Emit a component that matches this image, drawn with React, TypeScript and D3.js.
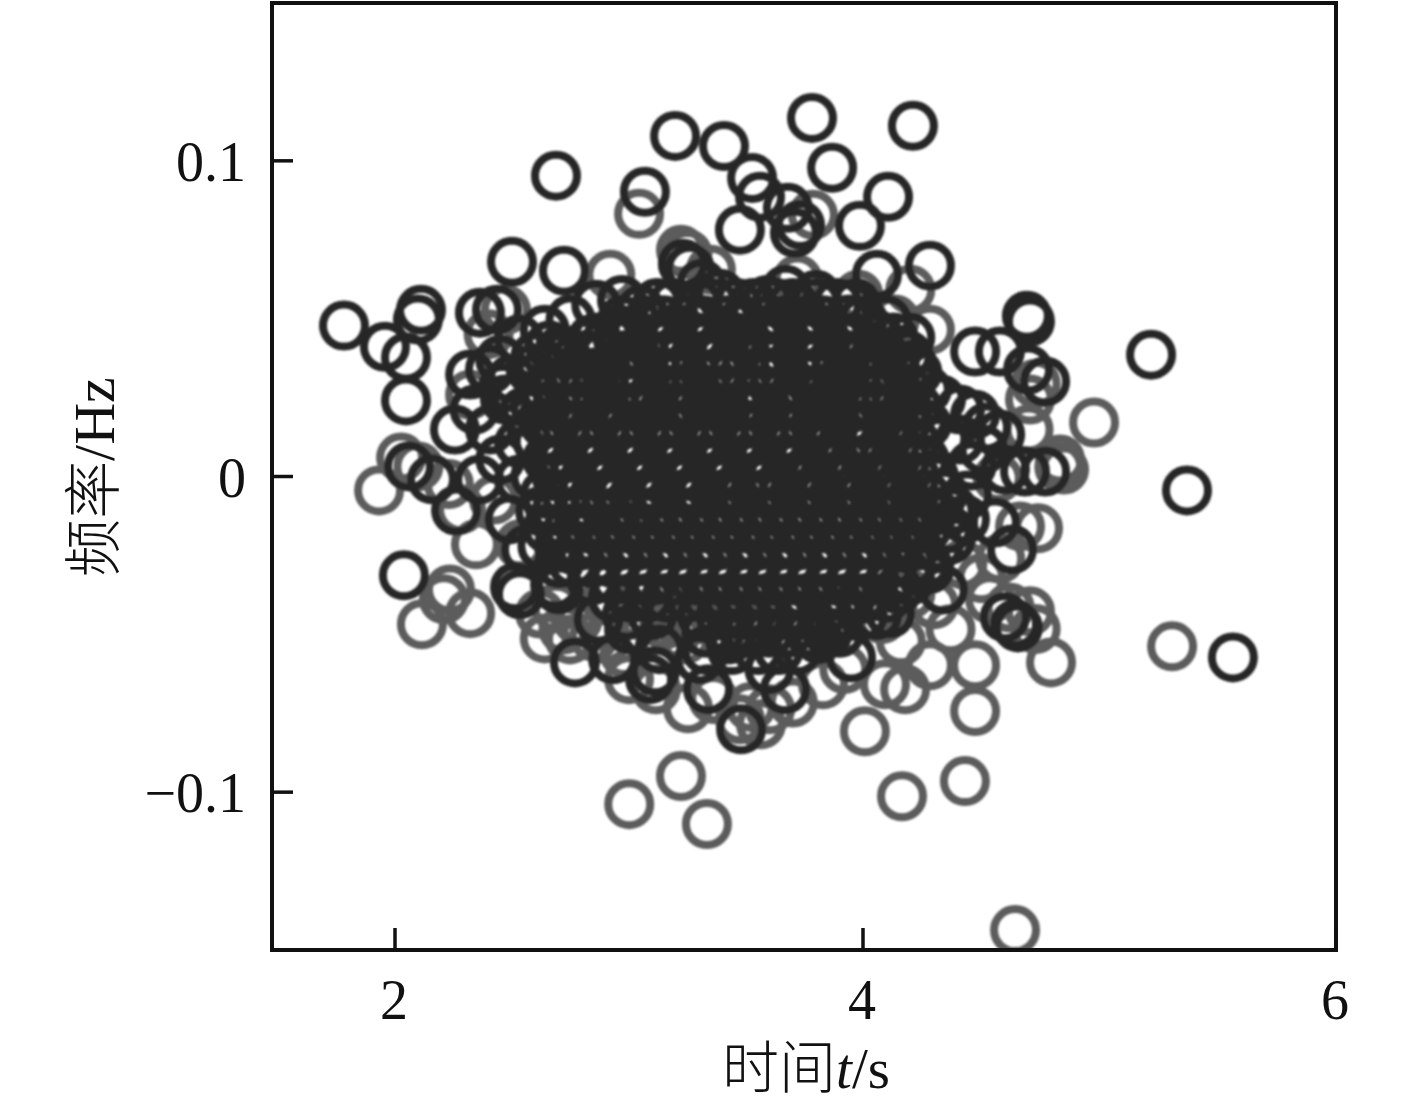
import React from "react";
import * as d3 from "d3";

type P = [number, number];
// outlying circles of the darker series: [t, f]
const darkOuter: P[] = [
  [1.782,.0478],[1.957,.0411],[2.047,.0377],[2.111,.0528],[2.098,.0497],[2.047,.0241],[2.06,.0032],[2.158,-.0009],[2.261,-.0108],[2.038,-.0313],
  [2.5,.068],[2.722,.0652],[2.688,.0953],[2.363,.0519],[2.436,.0528],[3.068,.0902],[3.197,.1079],[3.406,.1047],[3.526,.0946],[3.56,.0886],
  [3.679,.0851],[3.731,.0797],[3.474,.0782],[3.782,.1136],[3.868,.0978],[4.211,.1111],[4.106,.0886],[3.987,.0794],[3.709,.0772],[4.059,.0639],
  [4.283,.0668],[5.218,.0386],[5.37,-.0044],[5.564,-.0573],[4.693,.0509],[4.706,.0491],[4.579,.0396],[4.474,.0396],[4.77,.0301],[4.698,.0339],
  [4.77,.0016],[4.685,.0016],[4.643,-.0468],[4.6,-.0446],[4.558,-.0146],[4.63,-.0231],[4.655,-.0478],[3.949,-.0573],[4.114,-.0434],[4.338,-.0358],
  [3.479,-.0801],[3.667,-.0674],[3.338,-.0674],[3.111,-.0617],[2.932,-.0579],[2.769,-.0589],[2.513,-.0351],[2.534,-.0373],[2.321,.0323],[2.406,.0339],
  [2.256,.0149],[2.406,.0149],[4.41,.0212],[4.474,.0196],[4.431,-.0136],[2.684,-.0342],[3.09,-.0642],
];
// circles along the edge of the dense cluster, darker series
const darkEdge: P[] = [
  [3.23,.0674],[3.26,.0658],[3.31,.0611],[3.39,.0579],[3.67,.0592],[3.8,.0576],[3.59,.0559],[3.94,.0497],[4.06,.0449],[4.15,.0402],[4.21,.0354],
  [2.53,.0434],[2.64,.0465],[2.75,.0497],[2.86,.0544],[2.97,.0559],[3.05,.0528],[2.45,.037],[2.58,.0339],[2.71,.0402],[2.84,.0434],[2.96,.0465],
  [2.34,.0212],[2.47,.0244],[2.52,.0244],[2.45,.0054],[2.53,-.001],[2.36,-.001],[2.49,-.0136],[2.56,-.0231],[2.7,-.0358],[2.87,-.0453],[3.0,-.0484],[3.13,-.0547],
  [3.3,-.0579],[3.43,-.0516],[3.6,-.0611],[3.81,-.0516],[3.86,-.0453],[3.99,-.0389],[4.15,-.0358],[4.28,-.0294],[4.37,-.02],[4.51,.0085],[4.41,.0117],[4.58,.0133],
  [4.34,.0117],[4.33,.0244],[4.6,.0022],[4.38,-.0104],[4.46,.0035],[4.44,-.006],[4.52,.0155],[2.5,.031],[2.55,.0205],[2.53,.0105],[2.46,.028],[2.66,.0415],[2.6,.038],
];
// dense cluster, darker series, row by row (f, then the t of each circle in that row)
const denseF: number[] = [.055,.0495,.044,.0385,.033,.0275,.022,.0165,.011,.0055,0,-.0055,-.011,-.0165,-.022,-.0275,-.033,-.0385,-.044,-.0495,-.055];
const denseT: number[][] = [
  [3.12,3.19,3.29,3.36,3.46,3.53,3.63,3.7,3.8,3.89,3.97],
  [2.97,3.08,3.15,3.25,3.32,3.42,3.49,3.59,3.66,3.76,3.83,3.93,4.0,4.1],
  [2.86,2.95,3.02,3.12,3.19,3.29,3.36,3.46,3.55,3.62,3.72,3.79,3.89,3.96,4.06,4.13,4.2],
  [2.73,2.82,2.89,2.99,3.07,3.16,3.23,3.33,3.4,3.5,3.58,3.66,3.76,3.83,3.93,4.01,4.09,4.19],
  [2.69,2.76,2.86,2.95,3.02,3.12,3.2,3.28,3.38,3.45,3.55,3.62,3.72,3.8,3.88,3.97,4.06,4.14,4.23],
  [2.64,2.74,2.81,2.9,2.99,3.06,3.16,3.24,3.33,3.41,3.5,3.57,3.67,3.75,3.84,3.93,4.02,4.09,4.19,4.27],
  [2.6,2.69,2.77,2.86,2.94,3.03,3.11,3.2,3.28,3.37,3.46,3.54,3.63,3.71,3.8,3.88,3.97,4.05,4.14,4.23],
  [2.64,2.73,2.81,2.9,2.98,3.07,3.16,3.24,3.33,3.41,3.5,3.58,3.67,3.75,3.84,3.93,4.01,4.1,4.18,4.27],
  [2.61,2.68,2.78,2.85,2.95,3.02,3.12,3.19,3.29,3.36,3.46,3.53,3.63,3.7,3.8,3.87,3.97,4.04,4.14,4.22],
  [2.65,2.72,2.82,2.89,2.99,3.06,3.16,3.23,3.33,3.4,3.5,3.57,3.67,3.74,3.84,3.92,4.01,4.09,4.18,4.26],
  [2.6,2.69,2.76,2.86,2.93,3.03,3.1,3.2,3.27,3.37,3.44,3.54,3.61,3.71,3.79,3.88,3.96,4.05,4.13,4.22,4.3],
  [2.64,2.73,2.8,2.9,2.97,3.07,3.14,3.24,3.31,3.41,3.49,3.58,3.66,3.75,3.83,3.92,4.0,4.09,4.17,4.26,4.34],
  [2.62,2.69,2.78,2.85,2.95,3.03,3.11,3.2,3.28,3.37,3.45,3.54,3.62,3.71,3.79,3.88,3.96,4.05,4.13,4.22,4.3,4.37],
  [2.65,2.74,2.82,2.91,2.99,3.08,3.16,3.25,3.33,3.42,3.5,3.59,3.67,3.76,3.84,3.93,4.01,4.1,4.18,4.27,4.36],
  [2.63,2.7,2.79,2.87,2.96,3.04,3.13,3.21,3.3,3.38,3.47,3.55,3.64,3.72,3.81,3.89,3.98,4.06,4.15,4.23,4.32],
  [2.7,2.76,2.84,2.93,3.01,3.1,3.18,3.27,3.35,3.44,3.52,3.61,3.69,3.78,3.86,3.95,4.03,4.12,4.2,4.27],
  [2.84,2.94,3.03,3.11,3.2,3.28,3.37,3.45,3.54,3.62,3.71,3.79,3.88,3.96,4.05,4.13,4.2],
  [2.93,3.01,3.08,3.16,3.25,3.33,3.42,3.5,3.59,3.67,3.76,3.84,3.93,4.01,4.1],
  [2.99,3.1,3.31,3.39,3.48,3.56,3.65,3.73,3.82,3.9,4.0,4.06],
  [3.33,3.43,3.51,3.6,3.68,3.77,3.85,3.9],
  [3.33,3.44,3.55,3.64,3.72],
];
// lighter series
const greyPoints: P[] = [
  [1.932,-.0044],[2.026,.006],[2.115,-.0468],[2.209,-.0389],[2.321,-.0433],[2.235,-.0358],[2.64,-.0513],[3.001,-.1038],[3.222,-.0949],[3.333,-.1101],
  [4.008,-.0807],[4.165,-.1013],[4.431,-.0965],[4.474,-.0743],[4.643,-.1437],[5.307,-.0538],[4.795,-.0589],[4.977,.0171],[3.043,.0832],[4.283,.0465],
  [4.178,-.0674],[4.093,-.0658],[4.283,-.0598],[4.474,-.0598],[4.706,-.0427],[4.537,-.0389],[4.664,-.0158],[4.833,.0054],[4.706,.0244],[3.115,-.0674],
  [3.252,-.0734],[3.564,-.0785],[3.829,-.0658],[2.92,.0639],[3.222,.0718],[2.346,-.0215],[2.282,-.0104],[2.321,.0259],[2.423,-.0073],[2.534,-.0215],
  [2.748,-.0516],[3.0,-.0642],[3.474,-.0769],[3.603,-.0737],[4.135,.0497],[3.786,.0829],[2.474,.0528],[2.62,-.0434],[2.85,-.0508],[2.98,-.0559],
  [3.07,-.0497],[3.24,-.0516],[3.36,-.0705],[3.52,-.073],[4.16,-.0522],[4.37,-.0484],[4.58,-.026],[4.5,-.0322],[4.74,-.0164],[4.57,-.0005],[4.7,.0149],[4.83,.003],
  [3.25,.0705],[3.35,.0655],[3.72,.0624],[3.98,.0576],[4.2,.0592],[4.73,.0294],[4.85,.0022],[2.23,-.0024],[2.4,.0451],[2.1,.0032],[4.62,-.0415],[4.73,-.0483],
  [4.3,-.0405],[4.08,-.0452],[3.92,-.061],[3.7,-.0716],[2.69,-.0416],[2.9,-.0393],[3.14,-.0405],[3.3,-.0452],[3.5,-.0468],[3.7,-.0436],[4.2,-.0373],[4.42,-.0278],
  [3.2,-.05],[3.28,-.045],[3.15,-.047],[3.21,-.0455],[2.78,-.0455],[2.72,-.0485],[2.9,-.0515],
];

const xTicks = [2, 4, 6];
const yTicks = [0.1, 0, -0.1];
const yTickLabels = ["0.1", "0", "\u22120.1"];

const W = 1417, H = 1108;
const L = 272, R = 1336, T = 3, B = 950;
const serif = "'Liberation Serif', 'Times New Roman', serif";
const cjk = "'Noto Sans CJK SC', sans-serif";

export default function App() {
  const x = d3.scaleLinear().domain([2, 4, 6]).range([395, 863, 1336]);
  const y = d3.scaleLinear().domain([-0.15, 0.15]).range([B, T]);
  const dense: P[] = denseF.flatMap((f, i) => denseT[i].map((t) => [t, f] as P));
  const dark = [...dense, ...darkEdge, ...darkOuter];
  const ring = (d: P, i: number, c: string) => (
    <circle key={i} cx={x(d[0])} cy={y(d[1])} r={21} fill="none" stroke={c} strokeWidth={8} />
  );
  return (
    <svg width={W} height={H} style={{ position: "absolute", left: 0, top: 0 }}>
      <defs>
        <clipPath id="plot"><rect x={L} y={T} width={R - L} height={B - T} /></clipPath>
        <filter id="soft" x="-5%" y="-5%" width="110%" height="110%"><feGaussianBlur stdDeviation={1} /></filter>
      </defs>
      <rect width={W} height={H} fill="#fff" />
      <g clipPath="url(#plot)">
        <g filter="url(#soft)">
          {greyPoints.map((d, i) => ring(d, i, "#5c5c5c"))}
          {dark.map((d, i) => ring(d, i, "#282828"))}
        </g>
      </g>
      <rect x={L} y={T} width={R - L} height={B - T} fill="none" stroke="#111" strokeWidth={4} />
      {xTicks.map((t) => (
        <g key={t}>
          <line x1={x(t)} x2={x(t)} y1={B} y2={B - 22} stroke="#111" strokeWidth={3.5} />
          <text x={x(t) - 1} y={1019} textAnchor="middle" fontFamily={serif} fontSize={56} fill="#111">{t}</text>
        </g>
      ))}
      {yTicks.map((t, i) => (
        <g key={t}>
          <line x1={L} x2={L + 21} y1={y(t)} y2={y(t)} stroke="#111" strokeWidth={3.5} />
          <text x={246} y={y(t) + 20} textAnchor="end" fontFamily={serif} fontSize={56} fill="#111">{yTickLabels[i]}</text>
        </g>
      ))}
      <text x={806} y={1088} textAnchor="middle" fontSize={57} fill="#111" fontFamily={serif}>
        <tspan fontFamily={cjk} fontWeight={300}>时间</tspan>
        <tspan fontStyle="italic">t</tspan>/s
      </text>
      <text transform="translate(114,477) rotate(-90)" textAnchor="middle" fontSize={58} fill="#111" fontFamily={serif}>
        <tspan fontFamily={cjk} fontWeight={300}>频率</tspan>/Hz
      </text>
    </svg>
  );
}
